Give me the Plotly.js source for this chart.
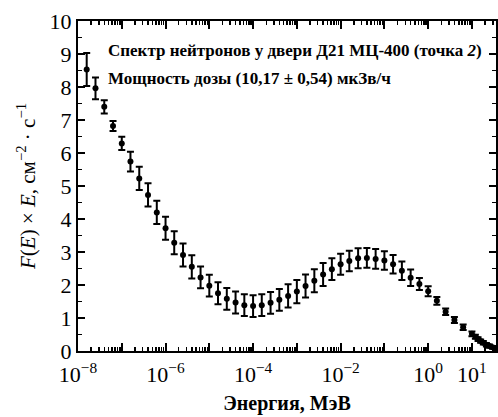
<!DOCTYPE html>
<html>
<head>
<meta charset="utf-8">
<script src="https://cdn.plot.ly/plotly-3.0.1.min.js"></script>
<style>html,body{margin:0;padding:0;background:#fff;}</style>
</head>
<body>
<div id="chart" style="width:498px;height:417px;"></div>
<script>
// Energy, MeV
const energy = [
  1.58e-8, 2.51e-8, 3.98e-8, 6.31e-8,
  1.0e-7, 1.58e-7, 2.51e-7, 3.98e-7, 6.31e-7,
  1.0e-6, 1.58e-6, 2.51e-6, 3.98e-6, 6.31e-6,
  1.0e-5, 1.58e-5, 2.51e-5, 3.98e-5, 6.31e-5,
  1.0e-4, 1.58e-4, 2.51e-4, 3.98e-4, 6.31e-4,
  1.0e-3, 1.58e-3, 2.51e-3, 3.98e-3, 6.31e-3,
  1.0e-2, 1.58e-2, 2.51e-2, 3.98e-2, 6.31e-2,
  0.1, 0.158, 0.251, 0.398, 0.631,
  1.0, 1.58, 2.51, 3.98, 6.31,
  10.0, 12.0, 13.8, 15.8, 18.2, 21.4, 25.1, 29.5, 34.7
];
// F(E) x E, cm^-2 s^-1
const fluxE = [
  8.53, 7.96, 7.40, 6.82,
  6.29, 5.74, 5.23, 4.73, 4.20,
  3.72, 3.28, 2.91, 2.55, 2.23,
  1.98, 1.75, 1.58, 1.47, 1.39,
  1.36, 1.39, 1.46, 1.55, 1.67,
  1.80, 1.97, 2.13, 2.32, 2.48,
  2.63, 2.73, 2.81, 2.82, 2.79,
  2.74, 2.63, 2.43, 2.22, 2.03,
  1.81, 1.52, 1.19, 0.94, 0.72,
  0.52, 0.43, 0.36, 0.30, 0.25, 0.19, 0.15, 0.11, 0.08
];
const fluxErr = [
  0.50, 0.33, 0.20, 0.15,
  0.20, 0.30, 0.35, 0.35, 0.35,
  0.35, 0.35, 0.35, 0.35, 0.33,
  0.33, 0.33, 0.33, 0.33, 0.33,
  0.33, 0.33, 0.33, 0.33, 0.35,
  0.35, 0.35, 0.35, 0.35, 0.33,
  0.32, 0.31, 0.30, 0.30, 0.30,
  0.28, 0.28, 0.28, 0.25, 0.18,
  0.15, 0.12, 0.10, 0.09, 0.08,
  0.07, 0.06, 0.06, 0.05, 0.05, 0.05, 0.05, 0.04, 0.04
];
const xTickVals = [1e-8, 1e-7, 1e-6, 1e-5, 1e-4, 1e-3, 1e-2, 1e-1, 1e0, 1e1];
const xTickText = ['10<sup>−8</sup>', '', '10<sup>−6</sup>', '', '10<sup>−4</sup>', '', '10<sup>−2</sup>', '', '10<sup>0</sup>', '10<sup>1</sup>'];
const minorDigits = [2, 3, 4, 5, 6, 7, 8, 9];
const annotationLines = [
  'Спектр нейтронов у двери Д21 МЦ-400 (точка <i>2</i>)',
  'Мощность дозы (10,17 ± 0,54) мкЗв/ч'
];

const xMinorVals = [];
xTickVals.forEach(d => minorDigits.forEach(m => xMinorVals.push(d * m)));

const serif = 'Liberation Serif, Times New Roman, serif';

const trace = {
  x: energy, y: fluxE, type: 'scatter', mode: 'markers',
  marker: {color: '#000', size: 6, symbol: 'circle'},
  error_y: {type: 'data', array: fluxErr, visible: true, color: '#000', thickness: 2, width: 3.5},
  showlegend: false
};

const layout = {
  width: 498, height: 417,
  margin: {l: 78, r: 2, t: 21, b: 66},
  paper_bgcolor: '#fff', plot_bgcolor: '#fff',
  font: {family: serif, color: '#000'},
  xaxis: {
    type: 'log', range: [-8, 1.55],
    tickmode: 'array', tickvals: xTickVals, ticktext: xTickText,
    ticks: 'inside', ticklen: 8, tickwidth: 2, tickcolor: '#000',
    ticklabelstandoff: 3,
    minor: {tickmode: 'array', tickvals: xMinorVals, ticks: 'inside', ticklen: 4, tickwidth: 1.5, tickcolor: '#000', showgrid: false},
    showline: true, linecolor: '#000', linewidth: 2, mirror: 'ticks',
    showgrid: false, zeroline: false,
    tickfont: {family: serif, size: 22, color: '#000'},
    title: {text: '<b>Энергия, МэВ</b>', font: {family: serif, size: 20, color: '#000'}, standoff: 10}
  },
  yaxis: {
    range: [0, 10], dtick: 1, tick0: 0,
    ticks: 'inside', ticklen: 7, tickwidth: 2, tickcolor: '#000',
    minor: {dtick: 0.5, ticks: 'inside', ticklen: 4, tickwidth: 1.5, tickcolor: '#000', showgrid: false},
    showline: true, linecolor: '#000', linewidth: 2, mirror: 'ticks',
    showgrid: false, zeroline: false,
    tickfont: {family: serif, size: 22, color: '#000'},
    title: {text: '<i>F</i>(<i>E</i>) × <i>E</i>, см<sup>−2</sup> · с<sup>−1</sup>', font: {family: serif, size: 21, color: '#000'}, standoff: 8}
  },
  annotations: annotationLines.map((t, i) => ({
    text: '<b>' + t + '</b>', xref: 'paper', yref: 'paper',
    x: 0.067, y: [0.912, 0.826][i], xanchor: 'left', yanchor: 'middle',
    showarrow: false, font: {family: serif, size: 17, color: '#000'}
  }))
};

Plotly.newPlot('chart', [trace], layout, {displayModeBar: false, staticPlot: true});
</script>
</body>
</html>
